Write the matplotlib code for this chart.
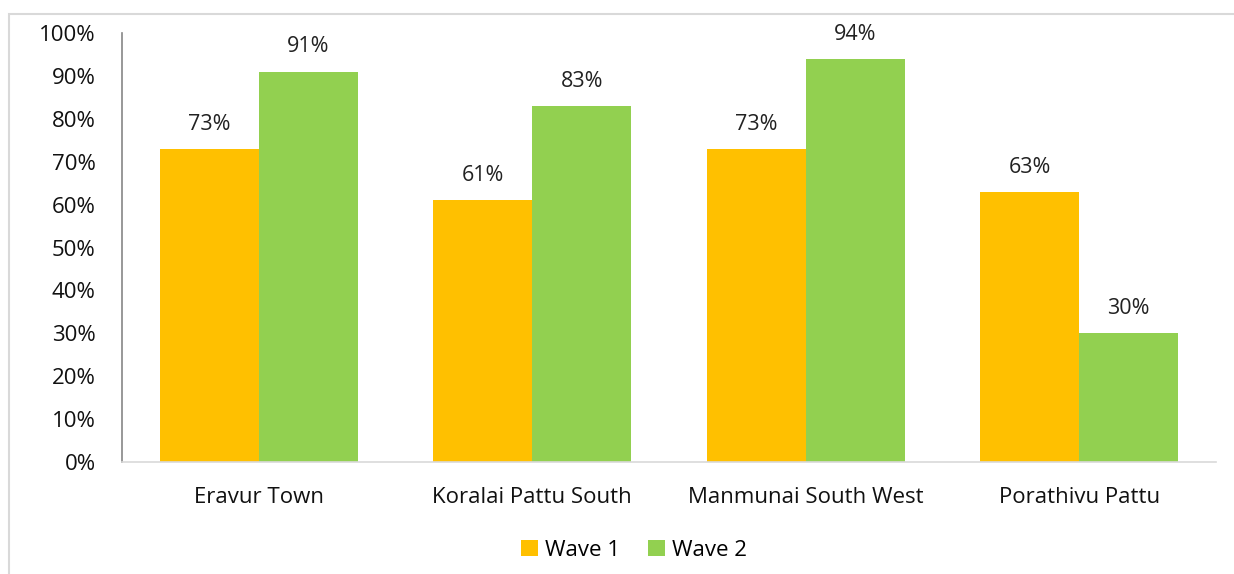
import matplotlib
matplotlib.use('Agg')
import matplotlib.pyplot as plt
import matplotlib.ticker as mticker
from matplotlib.patches import Rectangle
import numpy as np

plt.rcParams['font.family'] = ['Open Sans', 'DejaVu Sans']

# ========== DATA ==========
districts = ['Eravur Town', 'Koralai Pattu South', 'Manmunai South West', 'Porathivu Pattu']
wave1 = [73, 61, 73, 63]
wave2 = [91, 83, 94, 30]
series_names = ['Wave 1', 'Wave 2']

c_w1 = '#FFC000'
c_w2 = '#92D050'
FS = 16

fig = plt.figure(figsize=(12.34, 5.74), dpi=100)
ax = fig.add_axes([122 / 1234, 1 - 462 / 574, 1094 / 1234, 429 / 574])

# chart frame (runs off the right and bottom edges)
fig.patches.append(Rectangle((9 / 1234, -0.1), 1.2, 1 - 14 / 574 + 0.1,
                             transform=fig.transFigure, fill=False,
                             edgecolor='#d9d9d9', linewidth=1.5))

x = np.arange(len(districts))
width = 0.362
b1 = ax.bar(x - width / 2, wave1, width, color=c_w1, label=series_names[0])
b2 = ax.bar(x + width / 2, wave2, width, color=c_w2, label=series_names[1])

for bars, vals in ((b1, wave1), (b2, wave2)):
    for bar, v in zip(bars, vals):
        ax.text(bar.get_x() + bar.get_width() / 2, v + 3.3, f'{v}%',
                ha='center', va='bottom', fontsize=FS - 0.5, color='#222222')

ax.set_xlim(-0.5, len(districts) - 0.5)
ax.set_ylim(0, 100)
ax.yaxis.set_major_locator(mticker.MultipleLocator(10))
ax.yaxis.set_major_formatter(mticker.FuncFormatter(lambda v, _: f'{v:.0f}%'))
ax.set_xticks(x)
ax.set_xticklabels(districts)
ax.tick_params(axis='both', length=0, labelsize=FS, colors='#111111')
ax.tick_params(axis='y', pad=19)
ax.tick_params(axis='x', pad=18)

for side in ('top', 'right'):
    ax.spines[side].set_visible(False)
ax.spines['left'].set_color('#868686')
ax.spines['left'].set_linewidth(1.2)
ax.spines['bottom'].set_color('#d9d9d9')
ax.spines['bottom'].set_linewidth(1.2)

fig.legend(loc='center', bbox_to_anchor=(634 / 1234, 1 - 550 / 574), ncol=2,
           frameon=False, fontsize=FS, handlelength=0.75, handleheight=0.75,
           handletextpad=0.3, columnspacing=1.3)

fig.savefig('out.png', dpi=100)
